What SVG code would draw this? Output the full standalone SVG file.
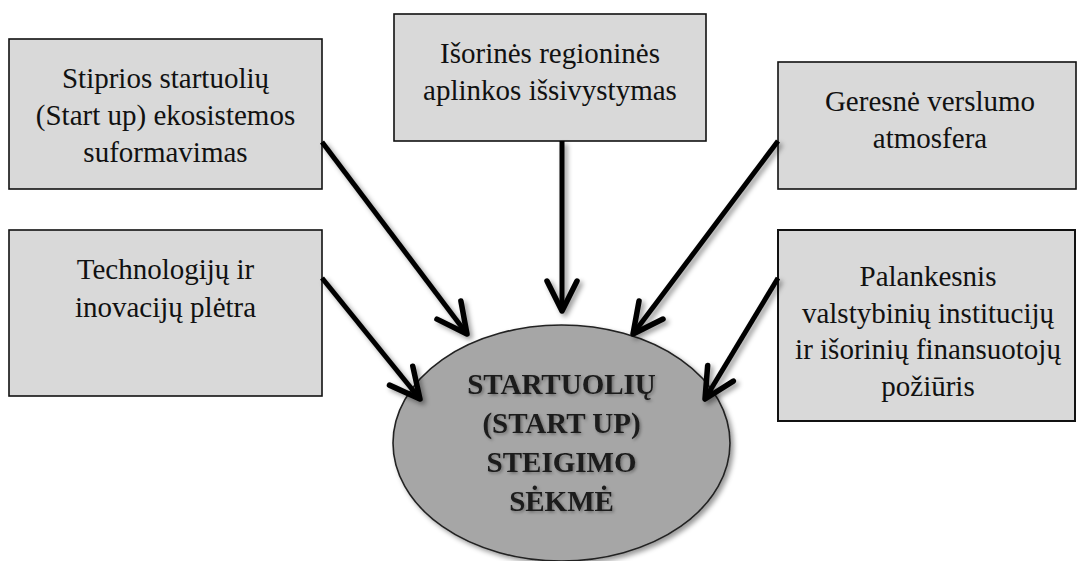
<svg xmlns="http://www.w3.org/2000/svg" width="1078" height="561" viewBox="0 0 1078 561">
<defs>
<style>
.box{fill:#d9d9d9;stroke:#111;stroke-width:1.6}
.t{font-family:"Liberation Serif","Tinos","DejaVu Serif",serif;font-size:29px;font-weight:normal;font-style:normal;fill:#111;text-anchor:middle}
.tb{font-family:"Liberation Serif","Tinos","DejaVu Serif",serif;font-size:29px;font-weight:bold;fill:#1a1a1a;text-anchor:middle}
.conn{stroke:#000;stroke-width:5;fill:none;marker-end:url(#ah)}
</style>
<filter id="sh" x="-20%" y="-20%" width="140%" height="140%">
<feDropShadow dx="3" dy="3" stdDeviation="2.5" flood-color="#000" flood-opacity="0.4"/>
</filter>
<filter id="tsh" x="-10%" y="-30%" width="120%" height="160%">
<feDropShadow dx="1.5" dy="1.5" stdDeviation="1.5" flood-color="#000" flood-opacity="0.35"/>
</filter>
<marker id="ah" markerUnits="userSpaceOnUse" viewBox="-36 -20 40 40" refX="0" refY="0" markerWidth="40" markerHeight="40" orient="auto" overflow="visible">
<path d="M-30,-15 L0,0 L-30,15" fill="none" stroke="#000" stroke-width="5.5" stroke-linecap="round" stroke-linejoin="round"/>
</marker>
</defs>
<rect width="1078" height="561" fill="#fff"/>

<g id="node-ecosystem">
<rect class="box" x="9" y="39" width="313" height="150"/>
<text class="t" x="165.5" y="88">Stiprios startuolių</text>
<text class="t" x="165.5" y="125">(Start up) ekosistemos</text>
<text class="t" x="165.5" y="162">suformavimas</text>
</g>

<g id="node-regional">
<rect class="box" x="394" y="14" width="312" height="127"/>
<text class="t" x="550" y="63">Išorinės regioninės</text>
<text class="t" x="550" y="100">aplinkos išsivystymas</text>
</g>

<g id="node-business">
<rect class="box" x="778" y="62" width="298" height="127"/>
<text class="t" x="930" y="111">Geresnė verslumo</text>
<text class="t" x="930" y="148">atmosfera</text>
</g>

<g id="node-technology">
<rect class="box" x="9" y="230" width="313" height="166"/>
<text class="t" x="165.5" y="279">Technologijų ir</text>
<text class="t" x="165.5" y="317">inovacijų plėtra</text>
</g>

<g id="node-attitude">
<rect class="box" x="778" y="230" width="297" height="191" style="stroke-width:2"/>
<text class="t" x="928" y="286">Palankesnis</text>
<text class="t" x="928" y="322.5">valstybinių institucijų</text>
<text class="t" x="928" y="359">ir išorinių finansuotojų</text>
<text class="t" x="928" y="395.5">požiūris</text>
</g>

<g id="node-success">
<ellipse cx="561.5" cy="443" rx="168.5" ry="118" fill="#a6a6a6" stroke="#222" stroke-width="1.6" filter="url(#sh)"/>
<g filter="url(#tsh)">
<text class="tb" x="561.5" y="394">STARTUOLIŲ</text>
<text class="tb" x="561.5" y="433">(START UP)</text>
<text class="tb" x="561.5" y="472">STEIGIMO</text>
<text class="tb" x="561.5" y="511">SĖKMĖ</text>
</g>
</g>

<g id="connectors" filter="url(#sh)">
<line class="conn" x1="322" y1="142" x2="467" y2="334"/>
<line class="conn" x1="562" y1="141" x2="562" y2="311"/>
<line class="conn" x1="778" y1="141" x2="633" y2="334"/>
<line class="conn" x1="322" y1="278" x2="420" y2="399"/>
<line class="conn" x1="778" y1="278" x2="705" y2="399"/>
</g>
</svg>
